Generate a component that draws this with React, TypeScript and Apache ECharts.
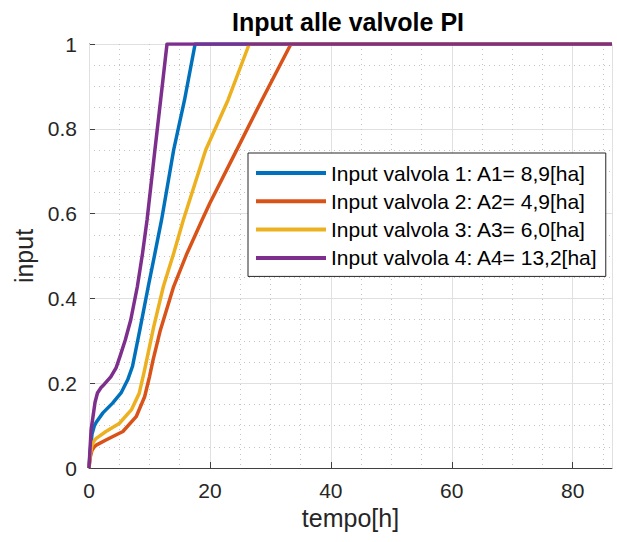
import React, { useEffect, useRef } from "react";
import * as echarts from "echarts";

// Valvola 1 (blue)
const tValvola1 = [0, 0.2, 0.5, 0.9, 1.2, 2.3, 3.9, 5.3, 6.4, 7.2, 8.4, 9.8, 10.9, 12.0, 14.0, 15.8, 17.55, 86.5];
const vValvola1 = [0, 0.04, 0.08, 0.1, 0.108, 0.13, 0.153, 0.177, 0.208, 0.24, 0.325, 0.428, 0.506, 0.585, 0.75, 0.868, 1, 1];
// Valvola 2 (orange)
const tValvola2 = [0, 0.2, 0.5, 0.9, 1.2, 2.8, 5.6, 7.8, 9.2, 10.0, 10.6, 11.8, 14.0, 16.2, 18.7, 20.0, 24.0, 28.6, 33.4, 86.5];
const vValvola2 = [0, 0.025, 0.042, 0.05, 0.054, 0.066, 0.086, 0.121, 0.168, 0.215, 0.255, 0.325, 0.428, 0.506, 0.585, 0.625, 0.738, 0.868, 1, 1];
// Valvola 3 (yellow)
const tValvola3 = [0, 0.2, 0.5, 0.9, 1.2, 2.8, 5.0, 7.0, 8.3, 9.1, 10.7, 12.3, 14.0, 15.6, 19.3, 23.0, 26.5, 86.5];
const vValvola3 = [0, 0.03, 0.055, 0.065, 0.07, 0.086, 0.105, 0.137, 0.176, 0.225, 0.333, 0.428, 0.506, 0.585, 0.75, 0.868, 1, 1];
// Valvola 4 (purple)
const tValvola4 = [0, 0.15, 0.35, 0.7, 1.0, 1.4, 2.0, 2.5, 3.6, 4.5, 5.1, 6.0, 6.9, 8.0, 8.85, 9.6, 10.9, 11.85, 12.9, 86.5];
const vValvola4 = [0, 0.04, 0.09, 0.125, 0.155, 0.177, 0.19, 0.197, 0.215, 0.237, 0.262, 0.302, 0.349, 0.428, 0.506, 0.585, 0.75, 0.868, 1, 1];

const seriesNames = [
  "Input valvola 1: A1= 8,9[ha]",
  "Input valvola 2: A2= 4,9[ha]",
  "Input valvola 3: A3= 6,0[ha]",
  "Input valvola 4: A4= 13,2[ha]",
];
const seriesColors = ["#0072BD", "#D95319", "#EDB120", "#7E2F8E"];
const seriesT = [tValvola1, tValvola2, tValvola3, tValvola4];
const seriesV = [vValvola1, vValvola2, vValvola3, vValvola4];

const xMax = 86.5;
const xMajorStep = 20;
const xMinorStep = 5;
const yMax = 1;
const yMajorStep = 0.2;

export default function App() {
  const ref = useRef<HTMLDivElement>(null);
  useEffect(() => {
    const chart = echarts.init(ref.current!, null, { renderer: "svg" });
    const font = "'Liberation Sans', Arial, Helvetica, sans-serif";
    const axisColor = "#262626";
    const minorLine = { color: "#c4c4c4", width: 1, type: [1, 4] as any };
    chart.setOption({
      animation: false,
      title: {
        text: "Input alle valvole PI",
        left: 232,
        top: 9,
        padding: 0,
        textStyle: { fontFamily: font, fontSize: 25, fontWeight: "bold", color: "#000" },
      },
      grid: { left: 89, right: 5, top: 44, bottom: 74, containLabel: false, outerBoundsMode: "none" },
      legend: {
        orient: "vertical",
        left: 248,
        top: 153,
        padding: [9.5, 8, 8, 8],
        itemWidth: 70,
        itemHeight: 4,
        itemGap: 7.3,
        icon: "rect",
        backgroundColor: "#fff",
        borderColor: axisColor,
        borderWidth: 1,
        data: seriesNames,
        textStyle: { fontFamily: font, fontSize: 21, color: "#000", lineHeight: 21 },
      },
      xAxis: [
        {
          type: "value",
          position: "bottom",
          min: 0,
          max: xMax,
          interval: xMinorStep,
          show: true,
          z: 0,
          axisLine: { show: false },
          axisTick: { show: false },
          axisLabel: { show: false },
          splitLine: { show: true, lineStyle: minorLine },
        },
        {
          type: "value",
          position: "bottom",
          min: 0,
          max: xMax,
          interval: xMajorStep,
          z: 1,
          name: "tempo[h]",
          nameLocation: "middle",
          nameGap: 36,
          nameTextStyle: { fontFamily: font, fontSize: 25, color: axisColor },
          axisLine: { show: true, onZero: false, lineStyle: { color: "#404040", width: 1 } },
          axisTick: { show: true, inside: true, length: 6, lineStyle: { color: "#404040" } },
          axisLabel: { fontFamily: font, fontSize: 21, color: axisColor, margin: 12, showMaxLabel: false },
          splitLine: { show: true, lineStyle: { color: "#e0e0e0", width: 1 } },
        },
      ],
      yAxis: {
        type: "value",
        min: 0,
        max: yMax,
        interval: yMajorStep,
        name: "input",
        nameLocation: "middle",
        nameGap: 48,
        nameTextStyle: { fontFamily: font, fontSize: 25, color: axisColor },
        axisLine: { show: true, lineStyle: { color: "#404040", width: 1 } },
        axisTick: { show: true, inside: true, length: 6, lineStyle: { color: "#404040" } },
        axisLabel: { fontFamily: font, fontSize: 21, color: axisColor, margin: 12 },
        splitLine: { show: true, lineStyle: { color: "#e0e0e0", width: 1 } },
        minorTick: { show: false, splitNumber: 4 },
        minorSplitLine: { show: true, lineStyle: minorLine },
      },
      series: seriesNames.map((name, k) => ({
        name,
        type: "line",
        xAxisIndex: 1,
        showSymbol: false,
        symbol: "none",
        smooth: false,
        color: seriesColors[k],
        lineStyle: { width: 3.5, color: seriesColors[k], join: "round" },
        z: 2 + k,
        data: seriesT[k].map((t, i) => [t, seriesV[k][i]]),
      })),
    });
    return () => chart.dispose();
  }, []);
  return (
    <div
      ref={ref}
      style={{ position: "fixed", left: 0, top: 0, width: 617, height: 542, background: "#fff" }}
    />
  );
}
